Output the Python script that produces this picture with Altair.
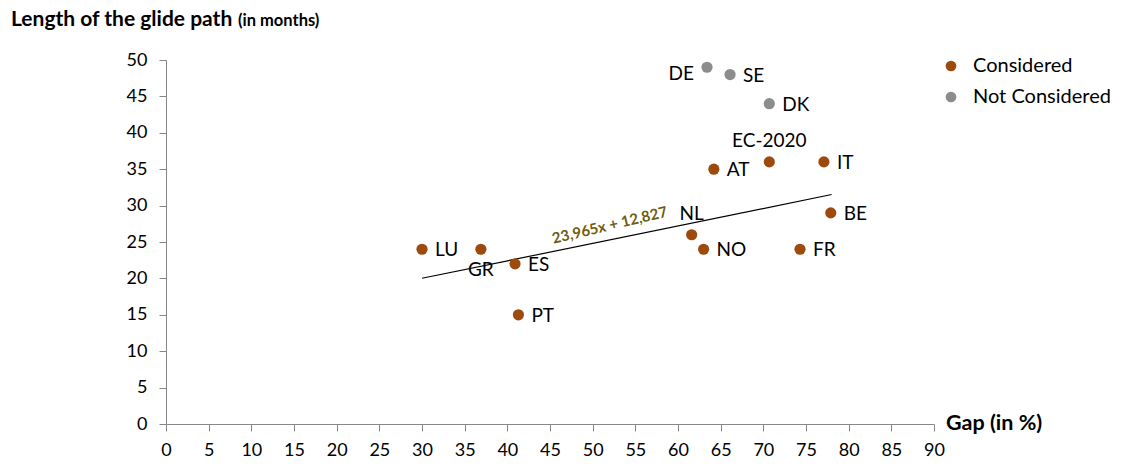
import altair as alt
import pandas as pd

names = ["LU", "GR", "ES", "PT", "NL", "NO", "AT", "EC-2020", "IT", "BE", "FR", "DE", "SE", "DK"]
gap = [30.0, 36.9, 40.9, 41.3, 61.6, 63.0, 64.2, 70.7, 77.1, 77.9, 74.3, 63.4, 66.1, 70.7]
months = [24, 24, 22, 15, 26, 24, 35, 36, 36, 29, 24, 49, 48, 44]
status = ["Considered"] * 11 + ["Not Considered"] * 3

trend_slope = 23.965
trend_intercept = 12.827
trend_gap = [30.0, 78.0]

right_labels = ["LU", "ES", "PT", "NO", "AT", "IT", "BE", "FR", "SE", "DK"]
left_labels = ["DE"]
below_labels = ["GR"]
above_labels = ["NL", "EC-2020"]

df = pd.DataFrame({"name": names, "gap": gap, "months": months, "status": status})
trend_df = pd.DataFrame({
    "gap": trend_gap,
    "months": [trend_slope * g / 100 + trend_intercept for g in trend_gap],
})
eq_df = pd.DataFrame({"gap": [52.0], "months": [27.3], "label": ["23,965x + 12,827"]})

FONT = "Lato"
BROWN = "#9E4A0C"
GRAY = "#8C8C8C"
AXIS = "#868686"

xscale = alt.Scale(domain=[0, 90], nice=False, zero=True)
yscale = alt.Scale(domain=[0, 50], nice=False, zero=True)

x_enc = alt.X("gap:Q", scale=xscale,
              axis=alt.Axis(values=list(range(0, 95, 5)), title=None, grid=False,
                            domainColor=AXIS, tickColor=AXIS, tickSize=7,
                            labelFontSize=18, labelFont=FONT, labelColor="#000",
                            labelPadding=10, labelFlush=False, labelOverlap=False))
y_enc = alt.Y("months:Q", scale=yscale,
              axis=alt.Axis(values=list(range(0, 55, 5)), title=None, grid=False,
                            domainColor=AXIS, tickColor=AXIS, tickSize=7,
                            labelFontSize=18, labelFont=FONT, labelColor="#000",
                            labelPadding=12, labelOverlap=False))

trend = alt.Chart(trend_df).mark_line(color="#000", strokeWidth=1.2).encode(x=x_enc, y=y_enc)

points = alt.Chart(df).mark_circle(size=125, opacity=1).encode(
    x=x_enc, y=y_enc,
    color=alt.Color("status:N",
                    scale=alt.Scale(domain=["Considered", "Not Considered"], range=[BROWN, GRAY]),
                    legend=alt.Legend(title=None, orient="none", legendX=775, legendY=-4,
                                      labelFont=FONT, labelFontSize=20, labelColor="#000",
                                      symbolSize=115, symbolType="circle", rowPadding=11,
                                      labelOffset=12, labelLimit=300)),
)

def text_layer(sel, **kw):
    return alt.Chart(df).transform_filter(
        alt.FieldOneOfPredicate(field="name", oneOf=sel)
    ).mark_text(font=FONT, fontSize=19, color="#000", **kw).encode(
        x=x_enc, y=y_enc, text="name:N")

lab_right = text_layer(right_labels, align="left", baseline="middle", dx=13, dy=1)
lab_left = text_layer(left_labels, align="right", baseline="middle", dx=-13, dy=7)
lab_below = text_layer(below_labels, align="center", baseline="middle", dy=21)
lab_above = text_layer(above_labels, align="center", baseline="middle", dy=-21)

eq = alt.Chart(eq_df).mark_text(font=FONT, fontSize=15, fontWeight="bold", color="#6E5C10",
                                angle=346.5, align="center", baseline="middle").encode(
    x=x_enc, y=y_enc, text="label:N")

ytitle1 = alt.Chart(pd.DataFrame({"t": ["Length of the glide path"]})).mark_text(
    font=FONT, fontSize=21, fontWeight="bold", color="#000", align="left", baseline="alphabetic"
).encode(x=alt.value(-155), y=alt.value(-34), text="t:N")
ytitle2 = alt.Chart(pd.DataFrame({"t": ["(in months)"]})).mark_text(
    font=FONT, fontSize=16.5, fontWeight="bold", color="#000", align="left", baseline="alphabetic"
).encode(x=alt.value(72), y=alt.value(-34), text="t:N")
xtitle = alt.Chart(pd.DataFrame({"t": ["Gap (in %)"]})).mark_text(
    font=FONT, fontSize=21.5, fontWeight="bold", color="#000", align="left", baseline="middle"
).encode(x=alt.value(780), y=alt.value(364), text="t:N")

chart = alt.layer(trend, points, lab_right, lab_left, lab_below, lab_above, eq,
                  ytitle1, ytitle2, xtitle).properties(
    width=768, height=364,
    background="white",
    autosize=alt.AutoSizeParams(type="none"),
    padding={"left": 158, "top": 52, "right": 184, "bottom": 40},
).configure_view(stroke=None)

chart.save("out.html", embed_options={"renderer": "svg", "actions": False})
